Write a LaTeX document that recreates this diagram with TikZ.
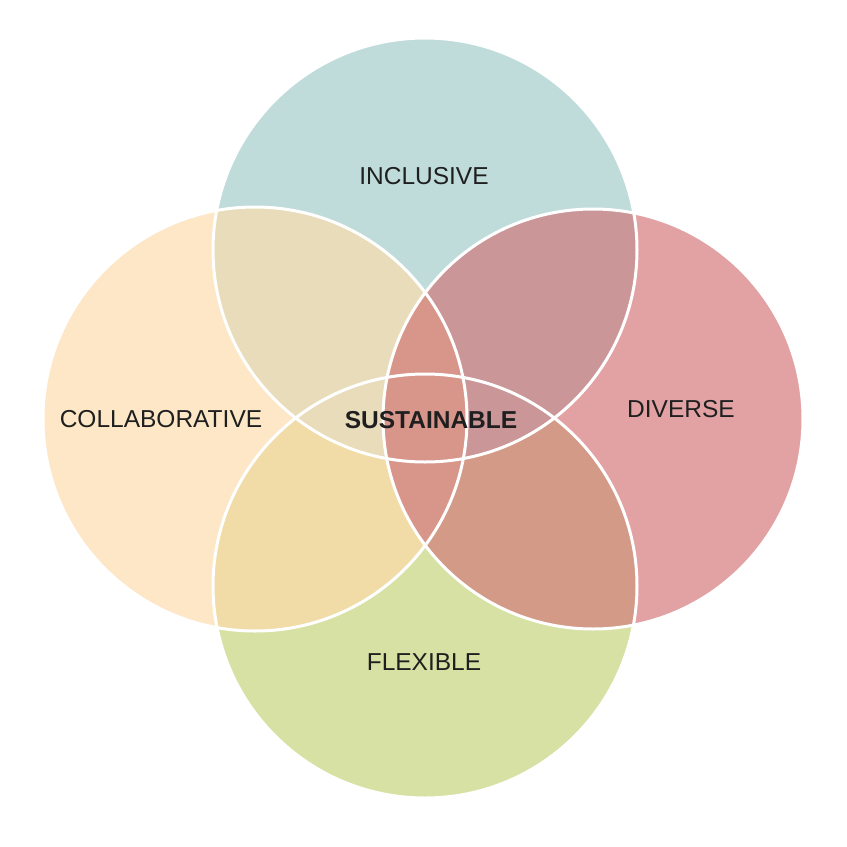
\documentclass[tikz,border=0pt]{standalone}
\usepackage{fontspec}
\setmainfont{Liberation Sans}
\begin{document}
\begin{tikzpicture}[x=1pt,y=-1pt]
\definecolor{cT}{HTML}{BFDCDB}
\definecolor{cL}{HTML}{FDE7C7}
\definecolor{cR}{HTML}{E2A2A4}
\definecolor{cB}{HTML}{D7E1A4}
\definecolor{cTL}{HTML}{E8DCBA}
\definecolor{cTR}{HTML}{CB9698}
\definecolor{cBL}{HTML}{F1DCA7}
\definecolor{cBR}{HTML}{D39A88}
\definecolor{cLR}{HTML}{D8958A}
\definecolor{txt}{HTML}{1F1F1F}
\tikzset{
  outline/.style={draw=white,line width=3pt},
  lbl/.style={text=txt,font=\fontsize{24.5}{29}\selectfont,inner sep=0pt},
  lblbold/.style={lbl,font=\fontsize{24.5}{29}\selectfont\bfseries}
}
\fill[white] (0,0) rectangle (847,847);
\useasboundingbox (0,0) rectangle (847,847);
\def\CT{(425,250) circle[radius=212pt]}
\def\CL{(255,419) circle[radius=212pt]}
\def\CR{(593,419) circle[radius=210pt]}
\def\CB{(425,586) circle[radius=212pt]}
\fill[cT] \CT; \fill[cL] \CL; \fill[cR] \CR; \fill[cB] \CB;
\begin{scope}\clip \CB; \fill[cBL] \CL; \end{scope}
\begin{scope}\clip \CB; \fill[cBR] \CR; \end{scope}
\begin{scope}\clip \CT; \fill[cTL] \CL; \end{scope}
\begin{scope}\clip \CT; \fill[cTR] \CR; \end{scope}
\begin{scope}\clip \CL; \fill[cLR] \CR; \end{scope}
\draw[outline] \CT; \draw[outline] \CL; \draw[outline] \CR; \draw[outline] \CB;
\node[lbl] (inc) at (424,176) {INCLUSIVE};
\node[lbl] (col) at (161,419) {COLLABORATIVE};
\node[lbl] (div) at (681,409) {DIVERSE};
\node[lbl] (flx) at (424,662) {FLEXIBLE};
\node[lblbold] (sus) at (431,420) {SUSTAINABLE};
\end{tikzpicture}
\end{document}
